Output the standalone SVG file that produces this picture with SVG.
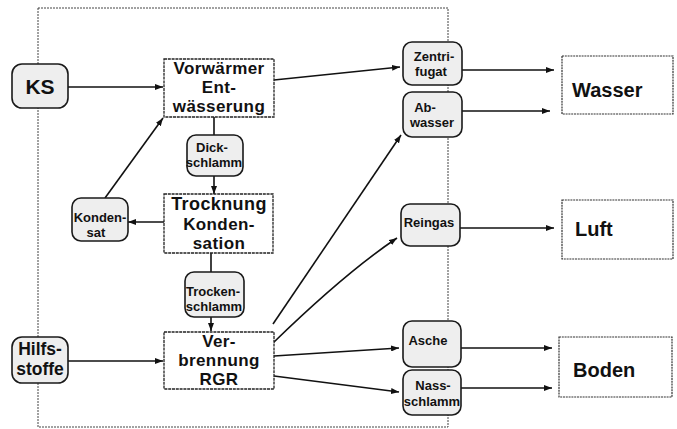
<svg xmlns="http://www.w3.org/2000/svg" width="677" height="429" viewBox="0 0 677 429">
<defs>
<style>
.bg{fill:#ffffff}
.frame{fill:none;stroke:#444;stroke-width:1;stroke-dasharray:2 1}
.box{fill:#ffffff;stroke:#222;stroke-width:1.3;stroke-dasharray:3 0.8}
.out{fill:#ffffff;stroke:#333;stroke-width:1.2;stroke-dasharray:2 0.8}
.pill{fill:#eeeeee;stroke:#1a1a1a;stroke-width:1.6}
.t{font-family:"Liberation Sans",Arial,Helvetica,sans-serif;font-weight:bold;fill:#111;text-anchor:middle}
.tb{font-size:17px;letter-spacing:0.4px}
.tk{font-size:21px}
.ts{font-size:13px}
.to{font-family:"Liberation Sans",Arial,Helvetica,sans-serif;font-weight:bold;fill:#111;font-size:20px}
.c{fill:none;stroke:#111;stroke-width:1.6}
.cl{fill:none;stroke:#111;stroke-width:1.4}
</style>
<marker id="ah" markerWidth="8" markerHeight="6" refX="8" refY="3" orient="auto" markerUnits="userSpaceOnUse">
<path d="M0,0 L8,3 L0,6 z" fill="#111"/>
</marker>
</defs>
<rect class="bg" x="0" y="0" width="677" height="429"/>
<rect class="frame" x="38" y="8" width="410" height="419"/>

<g id="connectors">
<line class="c" x1="68" y1="87" x2="163" y2="87" marker-end="url(#ah)"/>
<line class="c" x1="105" y1="198" x2="163" y2="118" marker-end="url(#ah)"/>
<line class="c" x1="164" y1="222" x2="128" y2="222" marker-end="url(#ah)"/>
<line class="c" x1="214" y1="117" x2="214" y2="135"/>
<line class="c" x1="214" y1="176" x2="214" y2="194" marker-end="url(#ah)"/>
<line class="c" x1="211" y1="253" x2="211" y2="272"/>
<line class="c" x1="211" y1="317" x2="211" y2="331" marker-end="url(#ah)"/>
<line class="c" x1="68" y1="361" x2="163" y2="361" marker-end="url(#ah)"/>
<line class="c" x1="274" y1="80" x2="400" y2="67" marker-end="url(#ah)"/>
<line class="c" x1="273" y1="324" x2="401" y2="135" marker-end="url(#ah)"/>
<path class="c" d="M273,343 Q345,273 397,238" marker-end="url(#ah)"/>
<line class="c" x1="274" y1="356" x2="399" y2="348" marker-end="url(#ah)"/>
<line class="c" x1="274" y1="376" x2="399" y2="392" marker-end="url(#ah)"/>
<line class="cl" x1="458" y1="70" x2="554" y2="70" marker-end="url(#ah)"/>
<line class="cl" x1="458" y1="111" x2="550" y2="111" marker-end="url(#ah)"/>
<line class="cl" x1="458" y1="228" x2="554" y2="228" marker-end="url(#ah)"/>
<line class="cl" x1="459" y1="348" x2="552" y2="348" marker-end="url(#ah)"/>
<line class="cl" x1="459" y1="388" x2="552" y2="388" marker-end="url(#ah)"/>
</g>

<g id="ks">
<rect class="pill" x="12" y="64" width="56" height="44" rx="10"/>
<text class="t tk" x="40" y="94">KS</text>
</g>
<g id="hilfsstoffe">
<rect class="pill" x="12" y="337" width="56" height="46" rx="10"/>
<text class="t" style="font-size:17.5px" x="40" y="355">Hilfs-</text>
<text class="t" style="font-size:17.5px" x="40" y="375">stoffe</text>
</g>
<g id="kondensat">
<rect class="pill" x="72" y="198" width="56" height="43" rx="9"/>
<text class="t ts" x="100" y="222">Konden-</text>
<text class="t ts" x="96" y="237">sat</text>
</g>
<g id="vorwaermer">
<rect class="box" x="164" y="59" width="110" height="58"/>
<text class="t tb" x="219" y="74">Vorwärmer</text>
<text class="t tb" x="219" y="93">Ent-</text>
<text class="t tb" x="219" y="112">wässerung</text>
</g>
<g id="dickschlamm">
<rect class="pill" x="187" y="135" width="56" height="41" rx="9"/>
<text class="t ts" x="212" y="152">Dick-</text>
<text class="t ts" x="214" y="167">schlamm</text>
</g>
<g id="trocknung">
<rect class="box" x="164" y="194" width="109" height="59"/>
<text class="t" style="font-size:18px;letter-spacing:0.4px" x="219" y="210">Trocknung</text>
<text class="t tb" x="219" y="230">Konden-</text>
<text class="t tb" x="219" y="249">sation</text>
</g>
<g id="trockenschlamm">
<rect class="pill" x="185" y="272" width="59" height="45" rx="9"/>
<text class="t ts" x="213" y="296">Trocken-</text>
<text class="t ts" x="214" y="311">schlamm</text>
</g>
<g id="verbrennung">
<rect class="box" x="164" y="332" width="110" height="57"/>
<text class="t tb" x="219" y="347">Ver-</text>
<text class="t tb" x="219" y="366">brennung</text>
<text class="t tb" x="219" y="385">RGR</text>
</g>
<g id="zentrifugat">
<rect class="pill" x="403" y="42" width="59" height="43" rx="9"/>
<text class="t ts" x="434" y="61">Zentri-</text>
<text class="t ts" x="431" y="76">fugat</text>
</g>
<g id="abwasser">
<rect class="pill" x="403" y="92" width="59" height="45" rx="9"/>
<text class="t ts" x="425" y="112">Ab-</text>
<text class="t ts" x="432" y="127">wasser</text>
</g>
<g id="reingas">
<rect class="pill" x="401" y="204" width="59" height="42" rx="9"/>
<text class="t ts" x="429" y="227">Reingas</text>
</g>
<g id="asche">
<rect class="pill" x="403" y="321" width="58" height="46" rx="9"/>
<text class="t ts" x="428" y="345">Asche</text>
</g>
<g id="nassschlamm">
<rect class="pill" x="403" y="370" width="58" height="45" rx="9"/>
<text class="t ts" x="433" y="390">Nass-</text>
<text class="t ts" x="432" y="406">schlamm</text>
</g>
<g id="wasser">
<rect class="out" x="562" y="56" width="111" height="58"/>
<text class="to" x="572" y="97">Wasser</text>
</g>
<g id="luft">
<rect class="out" x="562" y="200" width="111" height="59"/>
<text class="to" x="575" y="236">Luft</text>
</g>
<g id="boden">
<rect class="out" x="559" y="337" width="113" height="60"/>
<text class="to" x="573" y="377">Boden</text>
</g>
</svg>
